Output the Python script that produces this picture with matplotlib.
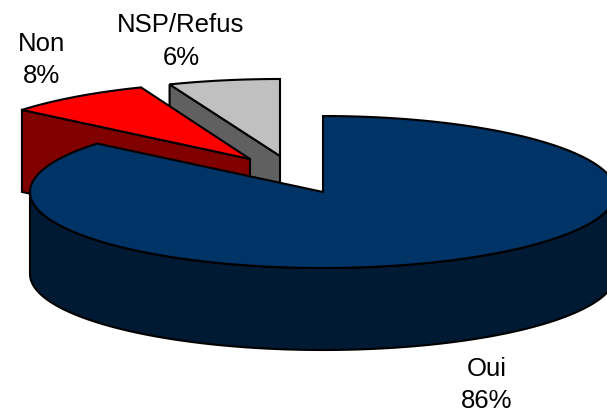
import numpy as np
import matplotlib
matplotlib.use('Agg')
import matplotlib.pyplot as plt
from matplotlib.patches import Polygon

labels = ['Oui', 'Non', 'NSP/Refus']
values = [86, 8, 6]
top_colors = ['#003366', '#ff0000', '#c0c0c0']
side_colors = ['#001a33', '#800000', '#606060']

# where each slice sits on the canvas (pixels): apex and radii
apex = [(323, 193), (250, 160), (280, 157)]
radius = [(293, 76), (296, 77), (300, 77)]
depth = 82
label_pos = [(487, 385), (42, 60), (181, 41.5)]

plt.rcParams['font.family'] = ['Liberation Sans', 'DejaVu Sans']
fig = plt.figure(figsize=(6.07, 4.14), dpi=100)
ax = fig.add_axes([0, 0, 1, 1])
ax.set_xlim(0, 607)
ax.set_ylim(414, 0)
ax.axis('off')


def arc(i, a0, a1):
    # angles in degrees clockwise from 12 o'clock
    t = np.radians(np.linspace(a0, a1, 200))
    x = apex[i][0] + radius[i][0] * np.sin(t)
    y = apex[i][1] - radius[i][1] * np.cos(t)
    return np.column_stack([x, y])


# slice angles from the values, starting at 12 o'clock
ends = np.cumsum(values) * 3.6
starts = ends - np.array(values) * 3.6
lw = 1.5
drop = np.array([0, depth])

# back to front: grey, red, blue
for z, i in enumerate([2, 1, 0]):
    pts = arc(i, starts[i], ends[i])
    a = np.array(apex[i])
    if i != 0:
        # radial wall on the left hand side of the slice
        wall = np.array([pts[0], a, a + drop, pts[0] + drop])
        ax.add_patch(Polygon(wall, fc=side_colors[i], ec='black', lw=lw, zorder=z * 2 + 1))
    else:
        t = arc(0, 90, 270)
        outer = np.vstack([t, (t + drop)[::-1]])
        ax.add_patch(Polygon(outer, fc=side_colors[i], ec='black', lw=lw, zorder=z * 2 + 1))
    top = np.vstack([a, pts])
    ax.add_patch(Polygon(top, fc=top_colors[i], ec='black', lw=lw, joinstyle='miter',
                         zorder=z * 2 + 2))

for lab, val, (x, y) in zip(labels, values, label_pos):
    ax.text(x, y, f'{lab}\n{val}%', ha='center', va='center', fontsize=18.5,
            color='black', linespacing=1.45, zorder=10)

fig.savefig('out.png', dpi=100)
